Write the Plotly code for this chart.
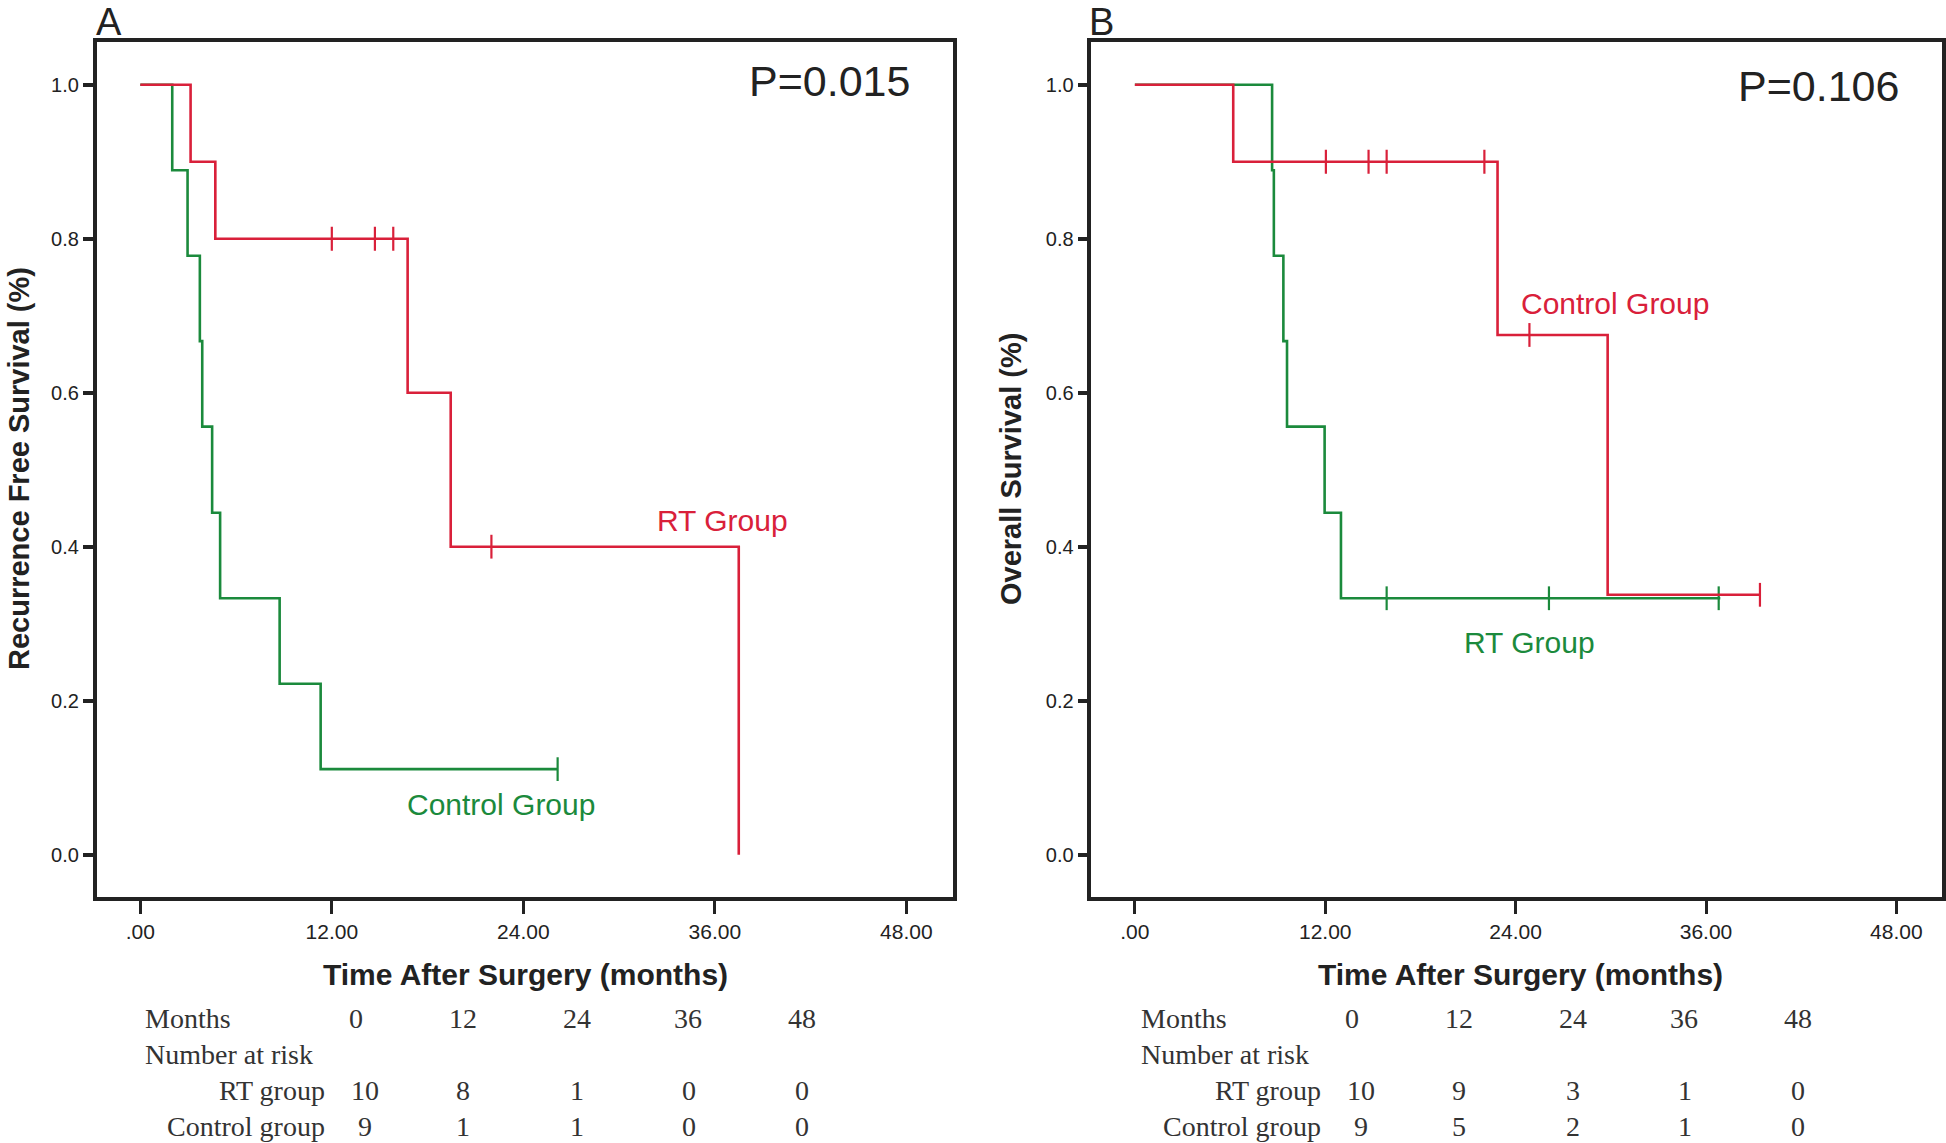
import plotly.graph_objects as go

# ---------------- data ----------------
# Panel A : Recurrence free survival
A_rt_time = [0, 3.15, 4.7, 16.75, 19.45, 37.5]
A_rt_surv = [1.0, 0.9, 0.8, 0.6, 0.4, 0.0]
A_rt_cens_time = [12.0, 14.7, 15.85, 22.0]
A_rt_cens_surv = [0.8, 0.8, 0.8, 0.4]

A_ctrl_time = [0, 2.0, 2.96, 3.73, 3.88, 4.5, 5.0, 8.73, 11.3, 26.15]
A_ctrl_surv = [1.0, 0.889, 0.778, 0.667, 0.556, 0.444, 0.333, 0.222, 0.111, 0.111]
A_ctrl_cens_time = [26.15]
A_ctrl_cens_surv = [0.111]

# Panel B : Overall survival
B_red_time = [0, 6.2, 22.86, 29.8, 39.4]
B_red_surv = [1.0, 0.9, 0.675, 0.3375, 0.3375]
B_red_cens_time = [12.04, 14.73, 15.87, 22.03, 24.87, 39.4]
B_red_cens_surv = [0.9, 0.9, 0.9, 0.9, 0.675, 0.3375]

B_green_time = [0, 8.65, 8.76, 9.36, 9.59, 11.96, 12.99, 36.9]
B_green_surv = [1.0, 0.889, 0.778, 0.667, 0.556, 0.444, 0.333, 0.333]
B_green_cens_time = [15.87, 26.1, 36.8]
B_green_cens_surv = [0.333, 0.333, 0.333]

x_tickvals = [0, 12, 24, 36, 48]
x_ticktext = [".00", "12.00", "24.00", "36.00", "48.00"]
y_tickvals = [0.0, 0.2, 0.4, 0.6, 0.8, 1.0]
y_ticktext = ["0.0", "0.2", "0.4", "0.6", "0.8", "1.0"]

risk_months = ["0", "12", "24", "36", "48"]
A_risk_rt = ["10", "8", "1", "0", "0"]
A_risk_ctrl = ["9", "1", "1", "0", "0"]
B_risk_rt = ["10", "9", "3", "1", "0"]
B_risk_ctrl = ["9", "5", "2", "1", "0"]

# ---------------- layout helpers ----------------
W, H = 1946, 1143
def px(x): return x / W
def py(y): return 1 - y / H

RED = "#d9203a"
GREEN = "#1b8a3c"
DARK = "#222222"
SANS = "Arial, Liberation Sans, sans-serif"
SERIF = "Times New Roman, Liberation Serif, serif"

fig = go.Figure()

def add_curve(t, s, ct, cs, color, xa, ya):
    fig.add_trace(go.Scatter(x=t, y=s, mode="lines", line=dict(color=color, width=2.6, shape="hv"),
                             xaxis=xa, yaxis=ya, showlegend=False, hoverinfo="skip"))
    fig.add_trace(go.Scatter(x=ct, y=cs, mode="markers",
                             marker=dict(symbol="line-ns", size=17, line=dict(color=color, width=2.2)),
                             xaxis=xa, yaxis=ya, showlegend=False, hoverinfo="skip"))

# panel A (green first, red on top)
add_curve(A_ctrl_time, A_ctrl_surv, A_ctrl_cens_time, A_ctrl_cens_surv, GREEN, "x", "y")
add_curve(A_rt_time, A_rt_surv, A_rt_cens_time, A_rt_cens_surv, RED, "x", "y")
# panel B
add_curve(B_green_time, B_green_surv, B_green_cens_time, B_green_cens_surv, GREEN, "x2", "y2")
add_curve(B_red_time, B_red_surv, B_red_cens_time, B_red_cens_surv, RED, "x2", "y2")

xcommon = dict(range=[-2.74, 50.9], tickvals=x_tickvals, ticktext=x_ticktext, ticks="outside",
               ticklen=13, tickwidth=3, tickcolor=DARK, showline=True, mirror=True, linewidth=3.5,
               linecolor=DARK, showgrid=False, zeroline=False,
               tickfont=dict(family=SANS, size=21, color=DARK), fixedrange=True)
ycommon = dict(range=[-0.0553, 1.0562], tickvals=y_tickvals, ticktext=y_ticktext, ticks="outside",
               ticklen=10, tickwidth=3.5, tickcolor=DARK, showline=True, mirror=True, linewidth=3.5,
               linecolor=DARK, showgrid=False, zeroline=False,
               tickfont=dict(family=SANS, size=20, color=DARK), fixedrange=True)

ydom = [py(897.2), py(41.5)]
fig.update_layout(
    width=W, height=H, margin=dict(l=0, r=0, t=0, b=0),
    paper_bgcolor="white", plot_bgcolor="white",
    xaxis=dict(domain=[px(96.6), px(952.6)], anchor="y", **xcommon),
    yaxis=dict(domain=ydom, anchor="x", **ycommon),
    xaxis2=dict(domain=[px(1091.4), px(1942.4)], anchor="y2", **xcommon),
    yaxis2=dict(domain=ydom, anchor="x2", **ycommon),
)

ann = []
def text(x, y, s, size, color=DARK, family=SANS, xanchor="center", yanchor="middle", angle=0):
    ann.append(dict(x=px(x), y=py(y), xref="paper", yref="paper", text=s, showarrow=False,
                    font=dict(family=family, size=size, color=color), xanchor=xanchor,
                    yanchor=yanchor, textangle=angle))

# panel letters
text(109, 22, "A", 38)
text(1101, 22, "B", 38)
# p-values
text(912, 81, "P=0.015", 43, xanchor="right")
text(1901, 86, "P=0.106", 43, xanchor="right")
# curve labels
text(655, 520, "RT Group", 30, color=RED, xanchor="left")
text(405, 804, "Control Group", 30, color=GREEN, xanchor="left")
text(1519, 304, "Control Group", 30, color=RED, xanchor="left")
text(1462, 642, "RT Group", 30, color=GREEN, xanchor="left")
# axis titles
text(19, 469, "<b>Recurrence Free Survival (%)</b>", 29, angle=-90)
text(1011, 469, "<b>Overall Survival (%)</b>", 29, angle=-90)
text(525, 974, "<b>Time After Surgery (months)</b>", 30)
text(1520, 974, "<b>Time After Surgery (months)</b>", 30)

# number at risk tables
TCOL = "#333333"
def table(off, rt, ctrl):
    hdr_x = [356, 463, 577, 688, 802]
    val_x = [365, 463, 577, 689, 802]
    text(143 + off, 1018, "Months", 28, TCOL, SERIF, xanchor="left")
    text(143 + off, 1054, "Number at risk", 28, TCOL, SERIF, xanchor="left")
    text(327 + off, 1090, "RT group", 28, TCOL, SERIF, xanchor="right")
    text(327 + off, 1126, "Control group", 28, TCOL, SERIF, xanchor="right")
    for i in range(5):
        text(hdr_x[i] + off, 1018, risk_months[i], 28, TCOL, SERIF)
        text(val_x[i] + off, 1090, rt[i], 28, TCOL, SERIF)
        text(val_x[i] + off, 1126, ctrl[i], 28, TCOL, SERIF)

table(0, A_risk_rt, A_risk_ctrl)
table(996, B_risk_rt, B_risk_ctrl)

fig.update_layout(annotations=ann)

fig.write_html("out.html", config={"displayModeBar": False},
               post_script="document.body.style.margin='0';document.body.style.overflow='hidden';")
